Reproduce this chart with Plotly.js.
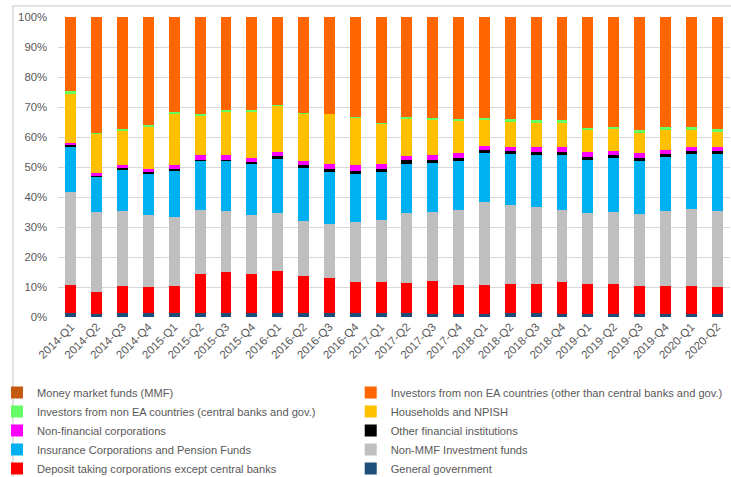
<!DOCTYPE html>
<html>
<head>
<meta charset="utf-8">
<script src="https://cdn.plot.ly/plotly-3.0.1.min.js"></script>
<style>html,body{margin:0;padding:0;background:#fff;}#chart{width:731px;height:477px;}</style>
</head>
<body>
<div id="chart"></div>
<script>
var quarters = ["2014-Q1","2014-Q2","2014-Q3","2014-Q4","2015-Q1","2015-Q2","2015-Q3","2015-Q4","2016-Q1","2016-Q2","2016-Q3","2016-Q4","2017-Q1","2017-Q2","2017-Q3","2017-Q4","2018-Q1","2018-Q2","2018-Q3","2018-Q4","2019-Q1","2019-Q2","2019-Q3","2019-Q4","2020-Q1","2020-Q2"];

var generalGovernment = [1.2,0.9,1.4,1.4,1.3,1.4,1.3,1.3,1.3,1.3,1.3,1.3,1.3,1.2,1.1,1.1,1.1,1.2,1.2,1.1,1.1,1.1,1.1,1.1,1.1,0.9];
var depositTaking = [9.5,7.3,8.9,8.5,9.0,12.9,13.8,12.9,14.1,12.4,11.7,10.5,10.4,10.2,10.9,9.6,9.6,9.8,9.7,10.6,9.9,9.9,9.3,9.3,9.3,9.2];
var nonMMFFunds = [31.0,26.8,25.0,24.1,23.0,21.5,20.2,19.9,19.2,18.3,17.9,19.8,20.6,23.3,23.0,25.0,27.6,26.3,25.7,23.9,23.7,24.0,23.8,24.9,25.6,25.1];
var insurancePension = [15.1,11.7,13.7,13.6,15.3,16.2,16.6,17.0,18.1,17.6,17.3,16.2,16.0,16.4,16.4,16.3,16.3,17.0,17.5,18.5,17.7,18.0,17.9,18.1,18.2,19.1];
var otherFinancial = [0.5,0.4,0.6,0.7,0.7,0.4,0.4,0.6,1.0,1.0,1.0,1.0,1.1,1.1,1.0,1.1,1.1,1.0,1.0,1.0,1.0,1.0,1.0,1.0,1.1,1.1];
var nonFinancialCorps = [0.8,1.0,1.1,1.1,1.4,1.6,1.7,1.4,1.4,1.5,1.9,1.9,1.5,1.6,1.7,1.7,1.4,1.5,1.6,1.6,1.6,1.4,1.5,1.4,1.4,1.4];
var households = [16.3,12.8,11.2,13.9,17.0,12.9,14.4,15.3,15.1,15.7,16.5,15.7,13.3,12.1,11.5,10.5,8.6,8.3,8.1,8.1,7.2,7.2,6.6,6.5,5.6,4.9];
var nonEACentral = [0.9,0.4,0.8,0.7,0.5,0.7,0.6,0.7,0.5,0.2,0.2,0.4,0.5,0.7,0.6,0.7,0.7,0.9,0.9,0.9,0.8,0.7,1.0,0.9,0.9,1.0];
var nonEAOther = [24.7,38.7,37.3,36.0,31.8,32.4,31.0,30.9,29.3,32.0,32.2,33.2,35.3,33.4,33.8,34.0,33.6,34.0,34.3,34.3,37.0,36.7,37.8,36.8,36.8,37.3];
var moneyMarketFunds = [0,0,0,0,0,0,0,0,0,0,0,0,0,0,0,0,0,0,0,0,0,0,0,0,0,0];

var yTicks = [0,10,20,30,40,50,60,70,80,90,100];
var yTickLabels = ["0%","10%","20%","30%","40%","50%","60%","70%","80%","90%","100%"];

// [name, values, colour, legend column]
var seriesDefs = [
  ["General government", generalGovernment, "#1F4E79", "legend2"],
  ["Deposit taking corporations except central banks", depositTaking, "#FF0000", "legend"],
  ["Non-MMF Investment funds", nonMMFFunds, "#BFBFBF", "legend2"],
  ["Insurance Corporations and Pension Funds", insurancePension, "#00B0F0", "legend"],
  ["Other financial institutions", otherFinancial, "#000000", "legend2"],
  ["Non-financial corporations", nonFinancialCorps, "#FF00FF", "legend"],
  ["Households and NPISH", households, "#FFC000", "legend2"],
  ["Investors from non EA countries (central banks and gov.)", nonEACentral, "#66FF66", "legend"],
  ["Investors from non EA countries (other than central banks and gov.)", nonEAOther, "#FF6600", "legend2"],
  ["Money market funds (MMF)", moneyMarketFunds, "#C55A11", "legend"]
];

var traces = seriesDefs.map(function(s){
  return {type:"bar", name:s[0], x:quarters, y:s[1], legend:s[3], marker:{color:s[2], line:{width:0}}, hoverinfo:"name+y"};
});

var FONT = "Liberation Sans, Arial, sans-serif";
var legendFont = {family:FONT, size:11.1, color:"#595959"};
var layout = {
  width:731, height:477,
  margin:{l:58, r:1, t:17, b:160, autoexpand:false},
  barmode:"stack", bargap:0.575,
  paper_bgcolor:"#fff", plot_bgcolor:"#fff",
  font:{family:FONT, size:11.3, color:"#595959"},
  xaxis:{type:"category", tickangle:-45, showgrid:false, zeroline:false, showline:false, ticks:"", tickfont:{family:FONT, size:11.5, color:"#595959"}},
  yaxis:{range:[0,100], tickvals:yTicks, ticktext:yTickLabels, showgrid:true, gridcolor:"#D9D9D9", gridwidth:1, zeroline:false, showline:false, ticks:"", ticklabelstandoff:10, tickfont:{family:FONT, size:11.3, color:"#595959"}},
  showlegend:true,
  legend:{orientation:"v", traceorder:"reversed", x:-0.0908, xanchor:"left", y:-0.2033, yanchor:"top", font:legendFont, bgcolor:"rgba(0,0,0,0)"},
  legend2:{orientation:"v", traceorder:"reversed", x:0.4356, xanchor:"left", y:-0.2033, yanchor:"top", font:legendFont, bgcolor:"rgba(0,0,0,0)"},
  shapes:[{type:"rect", xref:"paper", yref:"paper", x0:-0.067, x1:1.02, y0:-0.6, y1:1.0367, line:{color:"#D9D9D9", width:1.5}, fillcolor:"rgba(0,0,0,0)", layer:"below"}]
};

Plotly.newPlot("chart", traces, layout, {displayModeBar:false, staticPlot:true});
</script>
</body>
</html>
